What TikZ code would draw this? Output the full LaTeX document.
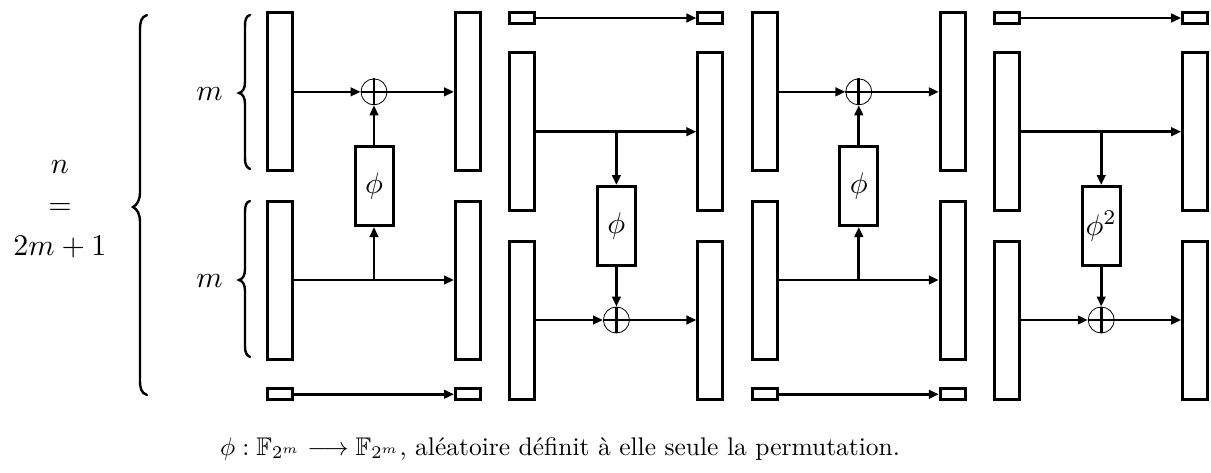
\documentclass[tikz,border=0pt]{standalone}
\usepackage{fontspec}
\usepackage{amssymb}
\usetikzlibrary{arrows.meta}

\tikzset{
  blk/.style={rectangle, draw, line width=3pt, minimum width=25pt, inner sep=0pt},
  bigblk/.style={blk, minimum height=158pt},
  smallblk/.style={blk, minimum height=11pt},
  fbox/.style={rectangle, draw, line width=3pt, minimum width=38pt, minimum height=79pt,
    inner sep=0pt},
  fboxtext/.style={inner sep=0pt, scale=3},
  xorop/.style={circle, draw, line width=0.8pt, minimum size=26pt, inner sep=0pt},
  wire/.style={line width=2.7pt, -{Triangle[length=10pt,width=8.5pt]}},
  bar/.style={line width=2.7pt},
  brc/.style={line width=2.4pt, line cap=round},
  lbl/.style={inner sep=0pt, scale=3},
  captext/.style={inner sep=0pt, scale=2.55}
}

\begin{document}
\begin{tikzpicture}[x=1pt, y=-1pt]
\useasboundingbox (0,0) rectangle (1211,472);

% rounds with the feedback on the upper half
\foreach \c/\x in {0/0, 2/484.8} {
  \node[bigblk]   (tl\c) at (280+\x, 91.85) {};
  \node[bigblk]   (bl\c) at (280+\x, 280) {};
  \node[smallblk] (sl\c) at (280+\x, 394.3) {};
  \node[bigblk]   (tr\c) at (468+\x, 91.85) {};
  \node[bigblk]   (br\c) at (468+\x, 280) {};
  \node[smallblk] (sr\c) at (468+\x, 394.3) {};
  \node[fbox]     (f\c)  at (374+\x, 186) {};
  \node[fboxtext] (ft\c) at (f\c.center) {$\phi$};
  \node[xorop]    (x\c)  at (374+\x, 91.85) {};
  \coordinate (j\c) at (f\c.south |- bl\c.east);
  \draw[wire] (tl\c.east) -- (x\c.west);
  \draw[wire] (x\c.west) -- (tr\c.west);
  \draw[wire] (f\c.north) -- (x\c.south);
  \draw[bar]  (x\c.south) -- (x\c.north);
  \draw[wire] (bl\c.east) -- (br\c.west);
  \draw[wire] (j\c) -- (f\c.south);
  \draw[wire] (sl\c.east) -- (sr\c.west);
}

% rounds with the feedback on the lower half
\foreach \c/\x/\lab in {1/242.4/\phi, 3/727.2/\phi^2} {
  \node[smallblk] (sl\c) at (280+\x, 18) {};
  \node[bigblk]   (tl\c) at (280+\x, 131.7) {};
  \node[bigblk]   (bl\c) at (280+\x, 320) {};
  \node[smallblk] (sr\c) at (468+\x, 18) {};
  \node[bigblk]   (tr\c) at (468+\x, 131.7) {};
  \node[bigblk]   (br\c) at (468+\x, 320) {};
  \node[fbox]     (f\c)  at (374+\x, 226) {};
  \node[fboxtext] (ft\c) at (f\c.center) {$\lab$};
  \node[xorop]    (x\c)  at (374+\x, 320) {};
  \coordinate (j\c) at (f\c.north |- tl\c.east);
  \draw[wire] (sl\c.east) -- (sr\c.west);
  \draw[wire] (tl\c.east) -- (tr\c.west);
  \draw[wire] (j\c) -- (f\c.north);
  \draw[wire] (f\c.south) -- (x\c.north);
  \draw[bar]  (x\c.north) -- (x\c.south);
  \draw[wire] (bl\c.east) -- (x\c.west);
  \draw[wire] (x\c.west) -- (br\c.west);
}

% braces
\draw[brc] (147,15) .. controls (141,17) and (140,22) .. (140,30) -- (140,192)
  .. controls (140,200) and (137,205) .. (133,207)
  .. controls (137,209) and (140,214) .. (140,222) -- (140,380)
  .. controls (140,388) and (141,393) .. (147,395);
\draw[brc] (250,15) .. controls (246,16) and (245,20) .. (245,26) -- (245,82)
  .. controls (245,88) and (243,92) .. (239,93)
  .. controls (243,94) and (245,98) .. (245,104) -- (245,158)
  .. controls (245,164) and (246,167) .. (250,169);
\draw[brc] (250,201) .. controls (246,202) and (245,206) .. (245,212) -- (245,269)
  .. controls (245,275) and (243,279) .. (239,280)
  .. controls (243,281) and (245,285) .. (245,291) -- (245,346)
  .. controls (245,352) and (246,355) .. (250,357);

% labels
\node[lbl, anchor=base] (nn) at (60,173) {$n$};
\node[lbl, anchor=base] (eq) at (60,214) {$=$};
\node[lbl, anchor=base] (nm) at (60,255) {$2m+1$};
\node[lbl, anchor=base] (m1) at (209.5,100) {$m$};
\node[lbl, anchor=base] (m2) at (209.5,287) {$m$};

\node[captext, anchor=base] (cap) at (560,455)
  {$\phi:\mathbb{F}_{2^m}\longrightarrow\mathbb{F}_{2^m}$, aléatoire définit à elle seule la permutation.};
\end{tikzpicture}
\end{document}
